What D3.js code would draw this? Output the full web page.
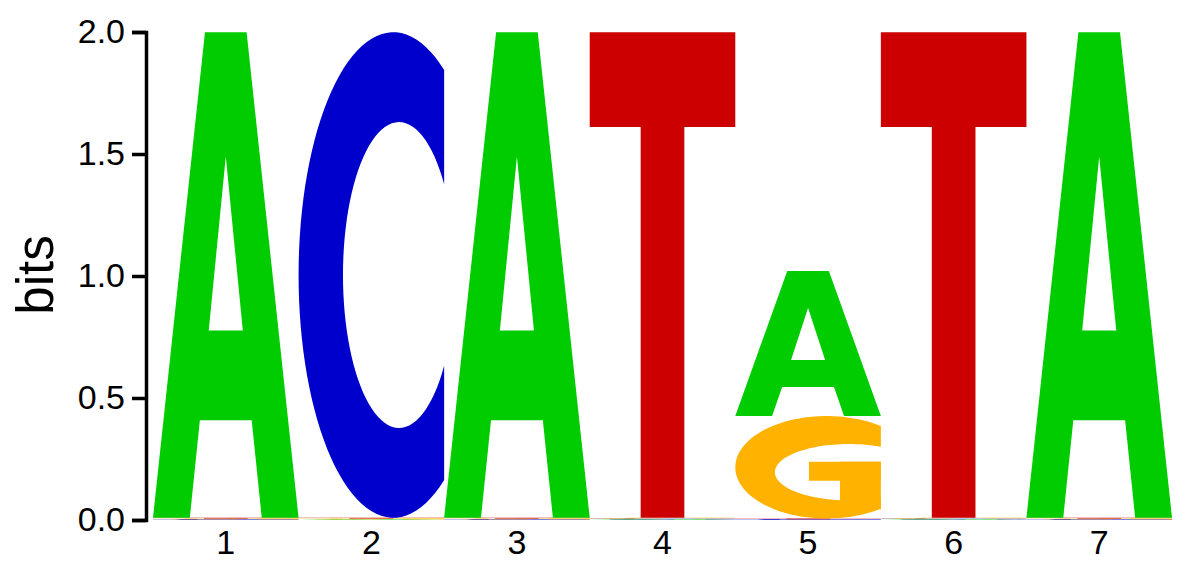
<!DOCTYPE html>
<html>
<head>
<meta charset="utf-8">
<script src="https://cdn.jsdelivr.net/npm/d3@7"></script>
<style>
  body { margin: 0; background: #fff; }
  text { font-family: "Liberation Sans", Arial, sans-serif; }
</style>
</head>
<body>
<div id="chart"></div>
<script>
// Positions along the motif and the bits each base carries there
const positions = [1, 2, 3, 4, 5, 6, 7];
const bases = ["A", "C", "G", "T"];
const bitsA = [1.99, 0.003, 1.99, 0.003, 0.595, 0.003, 1.99];
const bitsC = [0.003, 1.99, 0.003, 0.003, 0.003, 0.003, 0.003];
const bitsG = [0.003, 0.003, 0.003, 0.003, 0.42, 0.003, 0.003];
const bitsT = [0.003, 0.003, 0.003, 1.99, 0.003, 1.99, 0.003];
const yTicks = [0, 0.5, 1.0, 1.5, 2.0];

const baseColor = { A: "#00cc00", C: "#0000cc", G: "#ffb300", T: "#cc0000" };
const bitsByBase = { A: bitsA, C: bitsC, G: bitsG, T: bitsT };

const width = 1194, height = 565;
const margin = { top: 32, right: 22, bottom: 45, left: 153 };

// Letter outlines in a unit box (x 0..1 left to right, y 0..1 bottom to top)
function ellipseArc(cx, cy, a, b, t0, t1, n) {
  return d3.range(n + 1).map(k => {
    const t = t0 + (t1 - t0) * k / n;
    return [cx + a * Math.cos(t), cy + b * Math.sin(t)];
  });
}
// round letter body: outer ellipse minus inner ellipse, cut at x = 1
function roundRing(o, i) {
  const to = Math.acos((1 - o.cx) / o.a);
  const ti = Math.acos((1 - i.cx) / i.a);
  const outer = ellipseArc(o.cx, o.cy, o.a, o.b, to, 2 * Math.PI - to, 80);
  const inner = ellipseArc(i.cx, i.cy, i.a, i.b, 2 * Math.PI - ti, ti, 80);
  return outer.concat(inner);
}
const glyphs = {
  A: [[
    [[0, 0], [0.357, 1], [0.643, 1], [1, 0], [0.747, 0], [0.678, 0.201], [0.322, 0.201], [0.253, 0]],
    [[0.383, 0.386], [0.617, 0.386], [0.5, 0.744]]
  ]],
  T: [[
    [[0, 1], [1, 1], [1, 0.805], [0.65, 0.805], [0.65, 0], [0.35, 0], [0.35, 0.805], [0, 0.805]]
  ]],
  C: [[
    roundRing({ cx: 0.651, cy: 0.5, a: 0.651, b: 0.5 }, { cx: 0.69, cy: 0.5, a: 0.385, b: 0.315 })
  ]],
  G: [
    [roundRing({ cx: 0.628, cy: 0.5, a: 0.628, b: 0.5 }, { cx: 0.78, cy: 0.452, a: 0.508, b: 0.275 })],
    [[[0.506, 0.553], [1, 0.553], [1, 0.369], [0.506, 0.369]]],
    [[[0.719, 0.553], [1, 0.553], [1, 0.09], [0.719, 0.09]]]
  ]
};

const svg = d3.select("#chart")
  .append("svg")
  .attr("width", width)
  .attr("height", height);

const x = d3.scaleBand()
  .domain(positions)
  .range([margin.left, width - margin.right])
  .padding(0);

const y = d3.scaleLinear()
  .domain([0, 2])
  .range([height - margin.bottom, margin.top]);

// Stack the letters, smallest at the bottom
const stacks = positions.map((p, i) => {
  const col = bases.map(b => ({ base: b, bits: bitsByBase[b][i] }))
    .sort((a, b) => a.bits - b.bits);
  let acc = 0;
  col.forEach(d => { d.y0 = acc; acc += d.bits; d.y1 = acc; d.pos = p; });
  return col;
});

const letters = svg.append("g");
stacks.flat().forEach(d => {
  const gx = d3.scaleLinear().domain([0, 1]).range([x(d.pos), x(d.pos) + x.bandwidth()]);
  const gy = d3.scaleLinear().domain([0, 1]).range([y(d.y0), y(d.y1)]);
  const line = d3.line().x(p => gx(p[0])).y(p => gy(p[1]));
  glyphs[d.base].forEach(part => {
    letters.append("path")
      .attr("d", part.map(ring => line(ring) + "Z").join(""))
      .attr("fill-rule", "evenodd")
      .attr("fill", baseColor[d.base]);
  });
});

// Y axis
const yAxis = svg.append("g")
  .attr("transform", "translate(" + (margin.left - 7) + ",0)")
  .call(d3.axisLeft(y).tickValues(yTicks).tickFormat(d3.format(".1f")).tickSize(14).tickPadding(7));
yAxis.select(".domain").attr("stroke-width", 3.5);
yAxis.selectAll(".tick line").attr("stroke-width", 3.5);
yAxis.selectAll(".tick text")
  .attr("font-size", 34)
  .attr("font-family", "Liberation Sans, Arial, sans-serif")
  .attr("fill", "#000");

// X labels
const xAxis = svg.append("g")
  .attr("transform", "translate(0," + (height - margin.bottom) + ")")
  .call(d3.axisBottom(x).tickSize(0).tickPadding(10));
xAxis.select(".domain").remove();
xAxis.selectAll(".tick text")
  .attr("font-size", 34)
  .attr("font-family", "Liberation Sans, Arial, sans-serif")
  .attr("fill", "#000");

// Axis title
svg.append("text")
  .attr("transform", "translate(53," + 275 + ") rotate(-90)")
  .attr("text-anchor", "middle")
  .attr("font-size", 51)
  .attr("fill", "#000")
  .text("bits");
</script>
</body>
</html>
